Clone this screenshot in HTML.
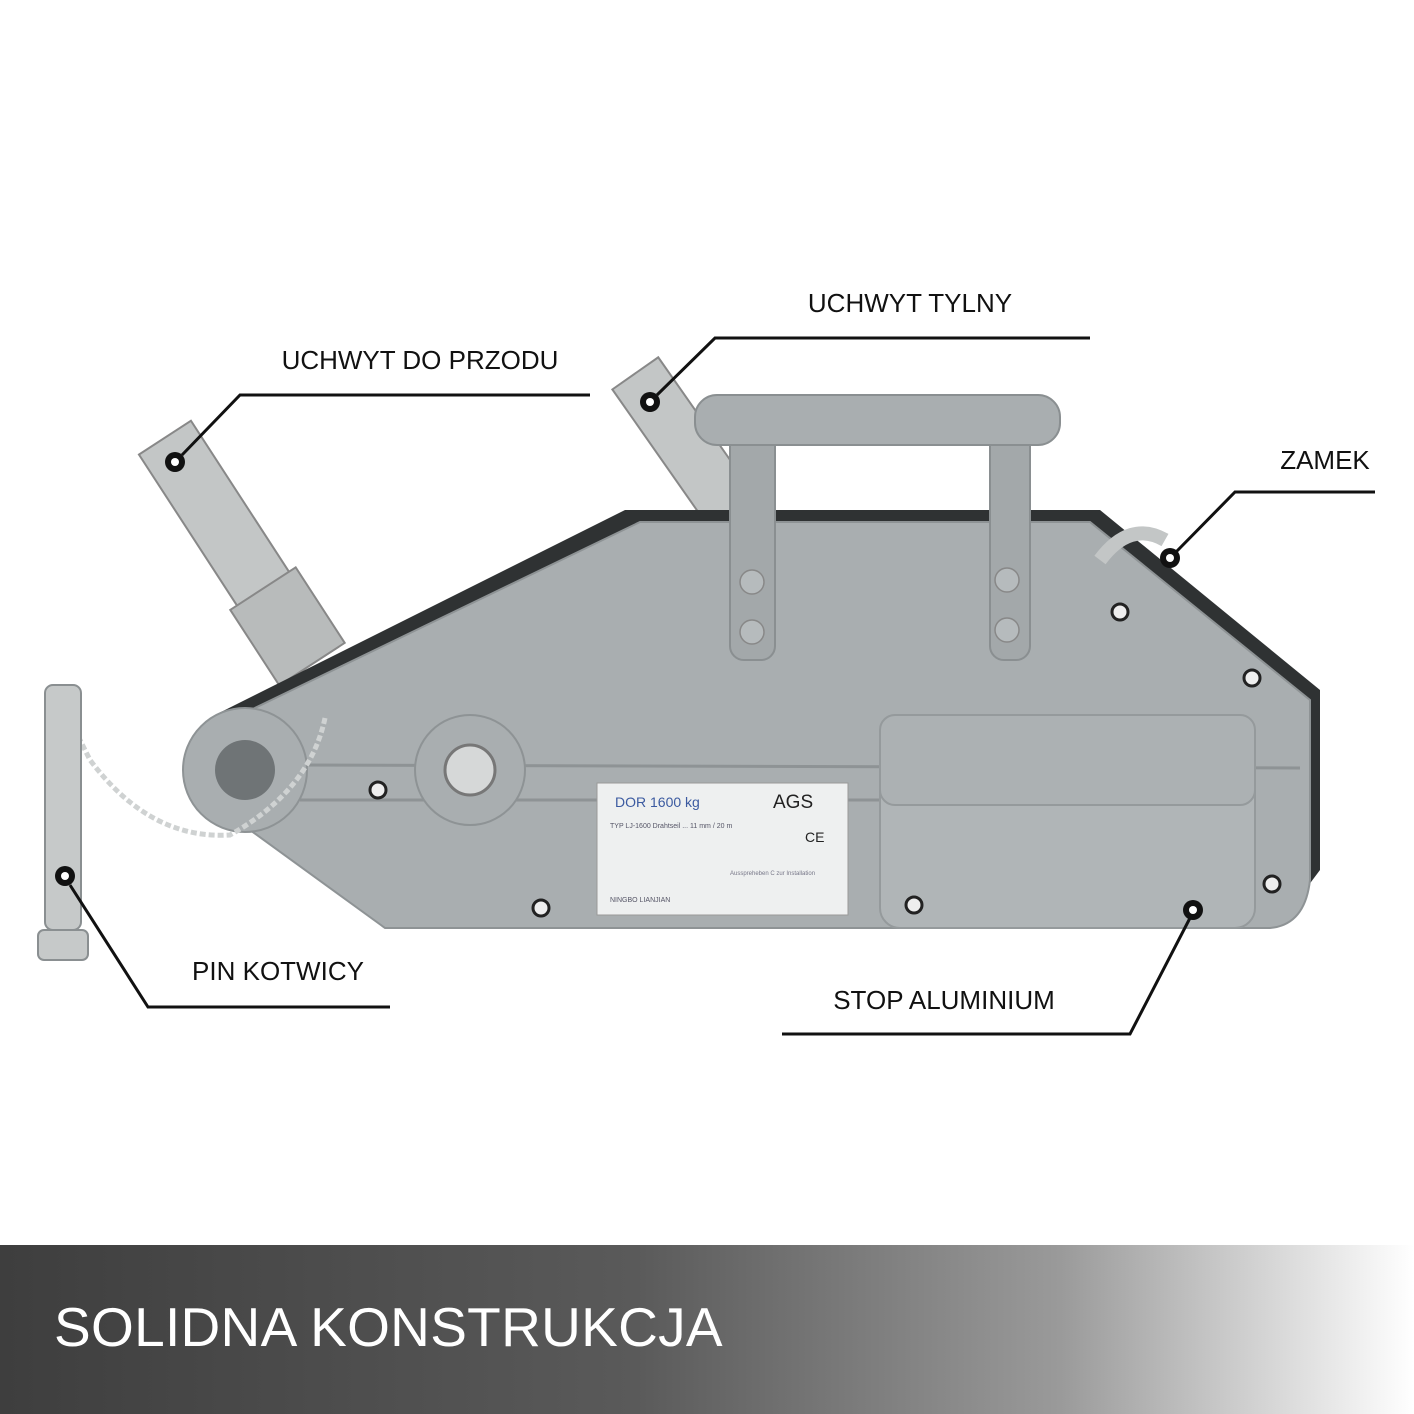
<!DOCTYPE html>
<html><head><meta charset="utf-8"><style>
html,body{margin:0;padding:0;background:#fff}
body{width:1414px;height:1414px;position:relative;overflow:hidden;font-family:"Liberation Sans",sans-serif}
.banner{position:absolute;left:0;top:1245px;width:1414px;height:169px;background:linear-gradient(90deg,#3e3e3e 0%,#5a5a5a 45%,#9a9a9a 75%,#fff 100%)}
.banner span{position:absolute;left:54px;top:50px;color:#fff;font-size:55px;letter-spacing:0.3px}
</style></head><body>
<svg width="1414" height="1245" style="position:absolute;left:0;top:0" font-family="Liberation Sans, sans-serif">
<!-- front lever -->
<g transform="translate(175,455) rotate(-33)">
<rect x="-30" y="-20" width="62" height="270" fill="#c3c6c6" stroke="#888" stroke-width="2"/>
<rect x="-38" y="160" width="78" height="90" fill="#b8bbbb" stroke="#888" stroke-width="2"/>
</g>
<!-- rear lever -->
<g transform="translate(648,395) rotate(-35)">
<rect x="-26" y="-25" width="56" height="200" fill="#c3c6c6" stroke="#888" stroke-width="2"/>
</g>
<!-- dark back plate -->
<polygon points="215,715 625,510 1100,510 1320,690 1320,870 1290,910" fill="#2f3233"/>
<!-- body -->
<path d="M230,720 L640,522 L1090,522 L1310,700 L1310,880 Q1305,925 1270,928 L385,928 L250,830 Z" fill="#a9aeb0" stroke="#8e9395" stroke-width="2"/>
<path d="M300,765 L1300,768 M300,800 L880,800" stroke="#8e9395" stroke-width="3" fill="none"/>
<rect x="880" y="715" width="375" height="213" rx="20" fill="#b0b5b7" stroke="#959a9c" stroke-width="2"/>
<rect x="880" y="715" width="375" height="90" rx="15" fill="#acb1b3" stroke="#959a9c" stroke-width="2"/>
<!-- left circle -->
<circle cx="245" cy="770" r="62" fill="#a9aeb0" stroke="#8e9395" stroke-width="2"/>
<circle cx="245" cy="770" r="30" fill="#6f7476"/>
<circle cx="470" cy="770" r="55" fill="#a9aeb0" stroke="#8e9395" stroke-width="2"/>
<circle cx="470" cy="770" r="25" fill="#d6d8d8" stroke="#777" stroke-width="3"/>
<!-- chain -->
<path d="M325,718 Q310,790 230,835 Q150,840 90,760 L60,700" stroke="#cfd2d2" stroke-width="5" fill="none" stroke-dasharray="6 3"/>
<!-- pin -->
<rect x="45" y="685" width="36" height="245" rx="8" fill="#c6c9c9" stroke="#8a8f91" stroke-width="2"/>
<rect x="38" y="930" width="50" height="30" rx="6" fill="#c6c9c9" stroke="#8a8f91" stroke-width="2"/>
<!-- lock handle -->
<path d="M1100,560 Q1130,520 1165,540" stroke="#c3c6c6" stroke-width="14" fill="none"/>
<!-- carry handle -->
<rect x="730" y="430" width="45" height="230" rx="14" fill="#a3a8aa" stroke="#8a8f91" stroke-width="2"/>
<rect x="990" y="430" width="40" height="230" rx="14" fill="#a3a8aa" stroke="#8a8f91" stroke-width="2"/>
<rect x="695" y="395" width="365" height="50" rx="22" fill="#a9aeb0" stroke="#8a8f91" stroke-width="2"/>
<g fill="#b6bbbd" stroke="#888" stroke-width="1.5">
<circle cx="752" cy="582" r="12"/><circle cx="752" cy="632" r="12"/>
<circle cx="1007" cy="580" r="12"/><circle cx="1007" cy="630" r="12"/>
</g>
<g fill="#eee" stroke="#222" stroke-width="3">
<circle cx="378" cy="790" r="8"/><circle cx="541" cy="908" r="8"/><circle cx="914" cy="905" r="8"/>
<circle cx="1120" cy="612" r="8"/><circle cx="1252" cy="678" r="8"/><circle cx="1272" cy="884" r="8"/>
</g>
<!-- nameplate -->
<rect x="597" y="783" width="251" height="132" fill="#eef0f0" stroke="#999"/>
<text x="615" y="807" font-size="14" fill="#3b5aa0">DOR 1600 kg</text>
<text x="773" y="808" font-size="19" fill="#222">AGS</text>
<text x="805" y="842" font-size="14" fill="#222">CE</text>
<text x="610" y="828" font-size="7" fill="#556">TYP LJ-1600 Drahtseil ... 11 mm / 20 m</text>
<text x="610" y="902" font-size="7" fill="#556">NINGBO LIANJIAN</text>
<text x="730" y="875" font-size="6" fill="#778">Ausspreheben C zur Installation</text>
<!-- labels -->
<g font-size="26" fill="#111" text-anchor="middle">
<text x="420" y="369">UCHWYT DO PRZODU</text>
<text x="910" y="312">UCHWYT TYLNY</text>
<text x="1325" y="469">ZAMEK</text>
<text x="278" y="980">PIN KOTWICY</text>
<text x="944" y="1009">STOP ALUMINIUM</text>
</g>
<g stroke="#111" stroke-width="3" fill="none">
<polyline points="590,395 240,395 182,455"/>
<polyline points="1090,338 715,338 657,395"/>
<polyline points="1375,492 1235,492 1176,552"/>
<polyline points="390,1007 148,1007 70,885"/>
<polyline points="782,1034 1130,1034 1190,918"/>
</g>
<g fill="#111"><circle cx="175" cy="462" r="10"/><circle cx="650" cy="402" r="10"/><circle cx="1170" cy="558" r="10"/><circle cx="65" cy="876" r="10"/><circle cx="1193" cy="910" r="10"/></g>
<g fill="#fff"><circle cx="175" cy="462" r="4"/><circle cx="650" cy="402" r="4"/><circle cx="1170" cy="558" r="4"/><circle cx="65" cy="876" r="4"/><circle cx="1193" cy="910" r="4"/></g>
</svg>
<div class="banner"><span>SOLIDNA KONSTRUKCJA</span></div>
</body></html>
